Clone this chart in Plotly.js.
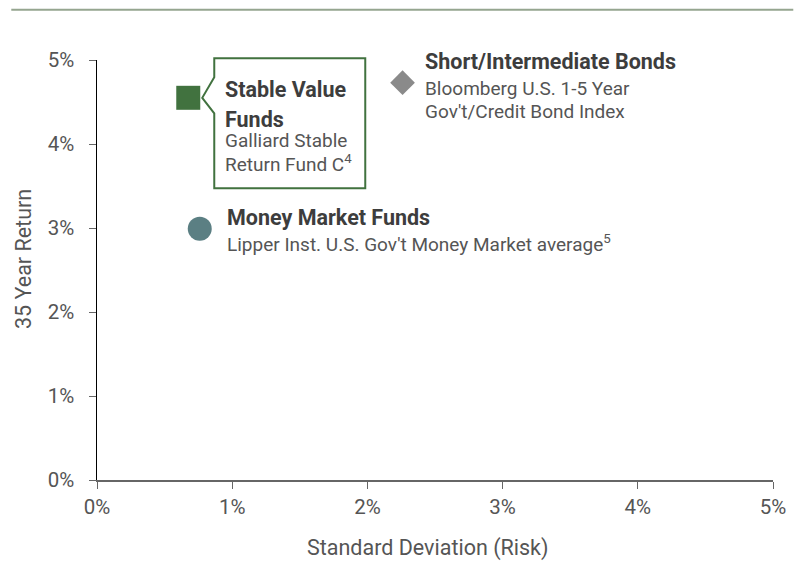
<!DOCTYPE html>
<html>
<head>
<meta charset="utf-8">
<script src="https://cdn.plot.ly/plotly-3.0.1.min.js"></script>
<style>
  html, body { margin: 0; padding: 0; background: #fff; }
  #plot { width: 804px; height: 563px; }
</style>
</head>
<body>
<div id="plot"></div>
<script>
// Data (risk %, return %)
const names = ["Stable Value Funds", "Short/Intermediate Bonds", "Money Market Funds"];
const risk = [0.675, 2.26, 0.76];
const ret = [4.55, 4.73, 2.99];
const headings = [["Stable Value", "Funds"], ["Short/Intermediate Bonds"], ["Money Market Funds"]];
const sublines = [
  ["Galliard Stable", "Return Fund C<sup>4</sup>"],
  ["Bloomberg U.S. 1-5 Year", "Gov't/Credit Bond Index"],
  ["Lipper Inst. U.S. Gov't Money Market average<sup>5</sup>"],
];
const tickVals = [0, 1, 2, 3, 4, 5];
const tickText = ["0%", "1%", "2%", "3%", "4%", "5%"];
const xTitle = "Standard Deviation (Risk)";
const yTitle = "35 Year Return";
const axisMax = 5;

// Styles
const symbols = ["square", "diamond", "circle"];
const sizes = [24, 19, 24];
const colors = ["#41723f", "#8a8a8a", "#5b7f83"];
const headFont = { family: "Liberation Sans Narrow, Roboto, sans-serif", size: 21.5, color: "#3d3d3d" };
const subFont = { family: "Roboto, sans-serif", size: 19, color: "#555555" };
const tickFont = { family: "Roboto, sans-serif", size: 20.5, color: "#555555" };
const titleFont = { family: "Roboto, sans-serif", size: 21.5, color: "#555555" };

// label offsets in pixels from each point
const labelPos = [
  { dx: 35, head: [8, -22], sub: [-42.5, -66] },
  { dx: 20, head: [21], sub: [-6, -29] },
  { dx: 25, head: [11.5], sub: [-14.5] },
];

const traces = names.map((n, i) => ({
  x: [risk[i]],
  y: [ret[i]],
  type: "scatter",
  mode: "markers",
  name: n,
  marker: { symbol: symbols[i], size: sizes[i], color: colors[i], line: { width: 0 } },
  hoverinfo: "name",
}));

const annotations = [];
names.forEach((n, i) => {
  const p = labelPos[i];
  headings[i].forEach((t, k) => {
    annotations.push({
      x: risk[i], y: ret[i], xref: "x", yref: "y",
      xanchor: "left", yanchor: "middle",
      xshift: p.dx, yshift: p.head[k],
      text: "<b>" + t + "</b>", showarrow: false, font: headFont,
    });
  });
  sublines[i].forEach((t, k) => {
    annotations.push({
      x: risk[i], y: ret[i], xref: "x", yref: "y",
      xanchor: "left", yanchor: "middle",
      xshift: p.dx, yshift: p.sub[k],
      text: t, showarrow: false, font: subFont,
    });
  });
});

// axis titles as annotations (the reference sets them slightly off-centre)
annotations.push({
  xref: "paper", yref: "paper", x: 0.489, y: -0.163,
  xanchor: "center", yanchor: "middle",
  text: xTitle, showarrow: false, font: titleFont,
});
annotations.push({
  xref: "paper", yref: "paper", x: -0.109, y: 0.527,
  xanchor: "center", yanchor: "middle", textangle: -90,
  text: yTitle, showarrow: false, font: titleFont,
});

const layout = {
  width: 804,
  height: 563,
  margin: { l: 97, r: 31, t: 60, b: 82.5 },
  showlegend: false,
  plot_bgcolor: "#ffffff",
  paper_bgcolor: "#ffffff",
  font: { family: "Roboto, sans-serif", color: "#555555" },
  xaxis: {
    range: [0, axisMax],
    tickvals: tickVals,
    ticktext: tickText,
    showgrid: false,
    zeroline: false,
    showline: true,
    linecolor: "#666666",
    linewidth: 1.5,
    ticks: "outside",
    ticklen: 7,
    tickcolor: "#666666",
    ticklabelstandoff: 1,
    tickfont: tickFont,
  },
  yaxis: {
    range: [0, axisMax],
    tickvals: tickVals,
    ticktext: tickText,
    showgrid: false,
    zeroline: false,
    showline: true,
    linecolor: "#000000",
    linewidth: 1.5,
    ticks: "outside",
    ticklen: 7,
    tickcolor: "#666666",
    ticklabelstandoff: 10,
    tickfont: tickFont,
  },
  shapes: [
    // rule at the top of the panel
    {
      type: "line", xref: "paper", yref: "paper",
      x0: -0.1268, x1: 1.03, y0: 1.1196, y1: 1.1196,
      line: { color: "#95a58f", width: 2 },
    },
    // callout box round the Stable Value label (paper y so the top edge is not clipped)
    {
      type: "path", xref: "x", yref: "paper",
      xsizemode: "pixel", ysizemode: "pixel",
      xanchor: risk[0], yanchor: ret[0] / axisMax,
      path: "M26,20.5 L26,39.5 L177,39.5 L177,-90.5 L26,-90.5 L26,-15.5 L14,0 Z",
      line: { color: "#41723f", width: 2 },
      fillcolor: "rgba(0,0,0,0)",
    },
  ],
  annotations: annotations,
};

Plotly.newPlot("plot", traces, layout, { displayModeBar: false, staticPlot: true });
</script>
</body>
</html>
